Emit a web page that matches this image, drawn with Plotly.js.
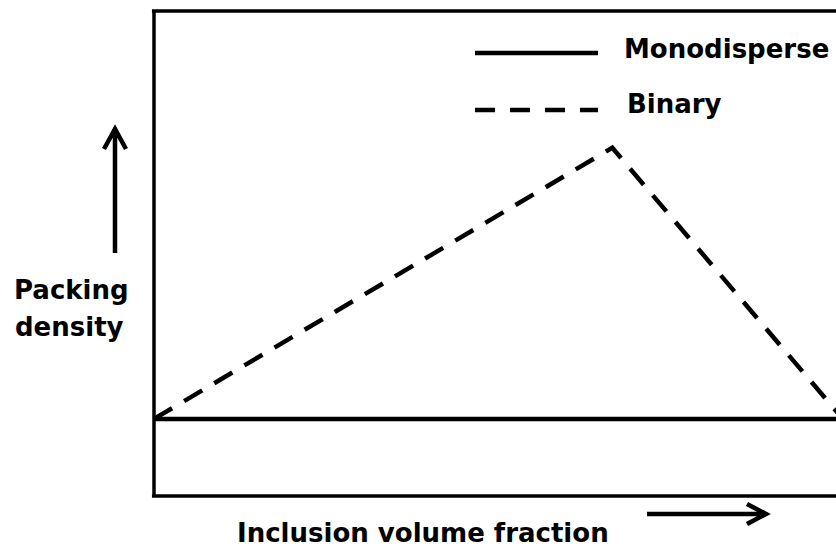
<!DOCTYPE html>
<html>
<head>
<meta charset="utf-8">
<script src="https://cdn.plot.ly/plotly-3.0.1.min.js"></script>
<style>html,body{margin:0;padding:0;background:#fff;}</style>
</head>
<body>
<div id="chart" style="width:836px;height:551px;"></div>
<script>
// Schematic data (arbitrary units)
const monoX = [0, 1.05];
const monoY = [0.159, 0.159];
const binaryX = [0, 0.672, 1.01];
const binaryY = [0.159, 0.718, 0.159];
const seriesNames = ["Monodisperse", "Binary"];
const xLabel = "Inclusion volume fraction";
const yLabelLines = ["Packing", "density"];

const W = 836, Hh = 551;
const L = 154, R = 0, T = 11, B = 55;
const pw = W - L - R, ph = Hh - T - B;
const px = x => (x - L) / pw;
const py = y => (Hh - B - y) / ph;

const font = {family: "DejaVu Sans, Arial, sans-serif", size: 26, color: "#000", weight: "bold"};

const traces = [
  {x: monoX, y: monoY, mode: "lines", name: seriesNames[0],
   line: {color: "#000", width: 4.5}, hoverinfo: "skip"},
  {x: binaryX, y: binaryY, mode: "lines", name: seriesNames[1],
   line: {color: "#000", width: 4.5, dash: "21px,14px"}, hoverinfo: "skip"}
];

const shapes = [
  {type: "line", xref: "paper", yref: "paper", x0: 0, x1: 0, y0: 0, y1: 1, line: {color: "#000", width: 3.5}},
  {type: "line", xref: "paper", yref: "paper", x0: -0.003, x1: 1.1, y0: 1, y1: 1, line: {color: "#000", width: 3.5}},
  {type: "line", xref: "paper", yref: "paper", x0: -0.003, x1: 1.1, y0: 0, y1: 0, line: {color: "#000", width: 3.5}},
  {type: "line", xref: "paper", yref: "paper", x0: px(475), x1: px(598), y0: py(53), y1: py(53), line: {color: "#000", width: 4.5}},
  {type: "line", xref: "paper", yref: "paper", x0: px(475), x1: px(598), y0: py(110), y1: py(110), line: {color: "#000", width: 4.5, dash: "20px,15px"}},
  {type: "path", xref: "paper", yref: "paper",
   path: `M ${px(115)} ${py(253)} L ${px(115)} ${py(129)} M ${px(104)} ${py(149)} L ${px(115)} ${py(129)} L ${px(126)} ${py(149)}`,
   line: {color: "#000", width: 4.5}},
  {type: "path", xref: "paper", yref: "paper",
   path: `M ${px(647)} ${py(514)} L ${px(766)} ${py(514)} M ${px(747)} ${py(504)} L ${px(766)} ${py(514)} L ${px(747)} ${py(524)}`,
   line: {color: "#000", width: 4.5}}
];

const annotations = [
  {text: seriesNames[0], xref: "paper", yref: "paper", x: px(622), y: py(49), xanchor: "left", yanchor: "middle", showarrow: false, font: font},
  {text: seriesNames[1], xref: "paper", yref: "paper", x: px(625), y: py(104), xanchor: "left", yanchor: "middle", showarrow: false, font: font},
  {text: xLabel, xref: "paper", yref: "paper", x: px(423), y: py(533), xanchor: "center", yanchor: "middle", showarrow: false, font: font},
  {text: yLabelLines[0], xref: "paper", yref: "paper", x: px(71), y: py(290), xanchor: "center", yanchor: "middle", showarrow: false, font: font},
  {text: yLabelLines[1], xref: "paper", yref: "paper", x: px(69), y: py(327), xanchor: "center", yanchor: "middle", showarrow: false, font: font}
];

const layout = {
  width: W, height: Hh,
  margin: {l: L, r: R, t: T, b: B, pad: 0},
  paper_bgcolor: "#fff", plot_bgcolor: "#fff",
  showlegend: false,
  xaxis: {range: [0, 1], visible: false, fixedrange: true},
  yaxis: {range: [0, 1], visible: false, fixedrange: true},
  shapes: shapes,
  annotations: annotations
};

Plotly.newPlot("chart", traces, layout, {staticPlot: true, displayModeBar: false});
</script>
</body>
</html>
